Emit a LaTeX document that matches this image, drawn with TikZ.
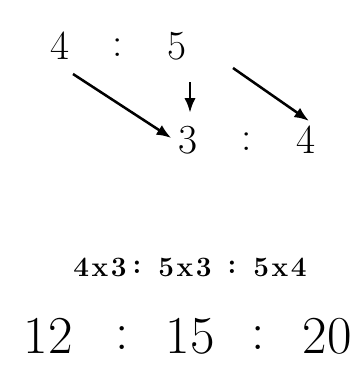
\documentclass[tikz,border=0pt]{standalone}
\usepackage{fontspec}
\usepackage{tikz}
\usetikzlibrary{arrows.meta,calc}

\begin{document}
\begin{tikzpicture}[x=0.75pt, y=-0.75pt,
    every node/.style={inner sep=0pt},
    ratio/.style={font=\fontsize{31}{34}\selectfont},
    result/.style={font=\fontsize{40}{44}\selectfont},
    work/.style={font=\fontsize{21}{24}\selectfont\bfseries},
    link/.style={line width=1.9pt, -{Latex[length=11pt, width=8.5pt]}}]
    \useasboundingbox (0, 0) rectangle (359, 385);

    % First ratio
    \node[ratio] (a1) at (60, 46) {4};
    \node[ratio] at (118, 48) {:};
    \node[ratio] (b1) at (177, 46) {5};

    % Second ratio
    \node[ratio] (b2) at (188, 140) {3};
    \node[ratio] at (247, 142) {:};
    \node[ratio] (c2) at (306, 140) {4};

    % Arrows
    \coordinate (s1) at (73, 74);
    \coordinate (s2) at (190, 82);
    \coordinate (s3) at (233, 68);
    \draw[link] (s1) -- ($(b2.west)+(-7,-2)$);
    \draw[link] (s2) -- ($(b2.north -| s2)+(0,-13)$);
    \draw[link] (s3) -- ($(c2.north)+(3,-5)$);

    % Products
    \node[work] (p1) at (100, 267) {4\kern2pt x\kern2pt 3};
    \node[work] at (137, 267) {:};
    \node[work] (p2) at (185, 267) {5\kern2pt x\kern2pt 3};
    \node[work] at (232, 267) {:};
    \node[work] (p3) at (280, 267) {5\kern2pt x\kern2pt 4};

    % Combined ratio
    \node[result] (r1) at (48, 336) {12};
    \node[result] at (122, 338) {:};
    \node[result] (r2) at (190, 336) {15};
    \node[result] at (258, 338) {:};
    \node[result] (r3) at (327, 336) {20};
\end{tikzpicture}
\end{document}
